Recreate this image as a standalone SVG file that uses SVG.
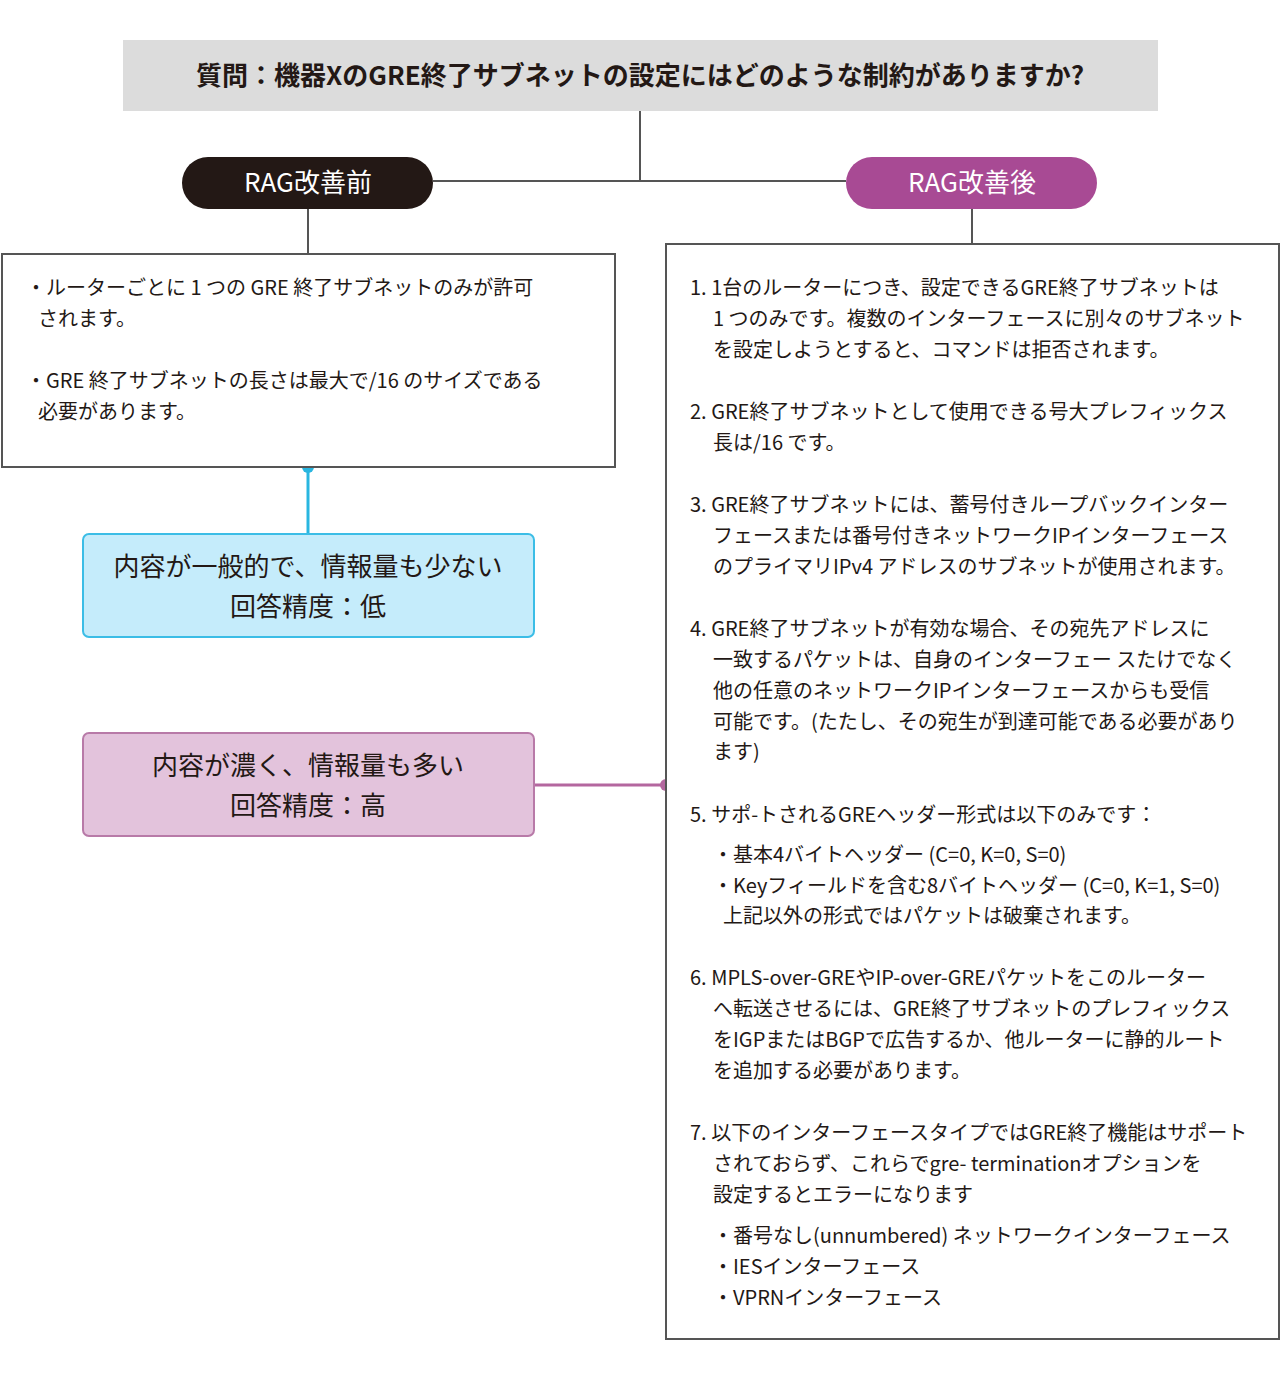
<svg xmlns="http://www.w3.org/2000/svg" width="1280" height="1381" viewBox="0 0 1280 1381">
<style>
text{font-family:"Noto Sans CJK JP","Noto Sans",sans-serif;fill:#231815}
.t{font-size:20px}
.b{font-size:26px}
</style>
<rect width="1280" height="1381" fill="#fff"/>
<g id="connectors" fill="none" stroke-width="2">
<path d="M640 111V181M433 181H846M308 209V254M972 209V244" stroke="#555"/>
<path d="M308 467V534" stroke="#29b6e0" stroke-width="3"/>
<circle cx="308" cy="467" r="6" fill="#29b6e0" stroke="none"/>
<path d="M534 785H666" stroke="#b4679f" stroke-width="3"/>
<circle cx="666" cy="785" r="6" fill="#b4679f" stroke="none"/>
</g>
<g id="title">
<rect x="123" y="40" width="1035" height="71" fill="#dcdcdc"/>
<text x="640" y="85" text-anchor="middle" style="font-size:26px;font-weight:bold">質問：機器XのGRE終了サブネットの設定にはどのような制約がありますか?</text>
</g>
<g id="before">
<rect x="182" y="157" width="251" height="52" rx="26" fill="#231815"/>
<text x="308" y="192" text-anchor="middle" class="b" style="fill:#fff">RAG改善前</text>
</g>
<g id="after">
<rect x="846" y="157" width="251" height="52" rx="26" fill="#a84a94"/>
<text x="972" y="192" text-anchor="middle" class="b" style="fill:#fff">RAG改善後</text>
</g>
<g id="leftbox">
<rect x="2" y="254" width="613" height="213" fill="#fff" stroke="#555" stroke-width="2"/>
<text class="t" x="26" y="295">・ルーターごとに 1 つの GRE 終了サブネットのみが許可</text>
<text class="t" x="38" y="326">されます。</text>
<text class="t" x="26" y="388">・GRE 終了サブネットの長さは最大で/16 のサイズである</text>
<text class="t" x="38" y="419">必要があります。</text>
</g>
<g id="low">
<rect x="83" y="534" width="451" height="103" rx="6" fill="#c5ecfb" stroke="#3bbde6" stroke-width="2"/>
<text class="b" x="308" y="576" text-anchor="middle">内容が一般的で、情報量も少ない</text>
<text class="b" x="308" y="616" text-anchor="middle">回答精度：低</text>
</g>
<g id="high">
<rect x="83" y="733" width="451" height="103" rx="6" fill="#e3c3dc" stroke="#b87aa8" stroke-width="2"/>
<text class="b" x="308" y="775" text-anchor="middle">内容が濃く、情報量も多い</text>
<text class="b" x="308" y="815" text-anchor="middle">回答精度：高</text>
</g>
<g id="rightbox">
<rect x="666" y="244" width="613" height="1095" fill="#fff" stroke="#555" stroke-width="2"/>
<g class="t">
<text class="t" x="690" y="295">1. 1台のルーターにつき、設定できるGRE終了サブネットは</text>
<text class="t" x="713" y="326">1 つのみです。複数のインターフェースに別々のサブネット</text>
<text class="t" x="713" y="357">を設定しようとすると、コマンドは拒否されます。</text>
<text class="t" x="690" y="419">2. GRE終了サブネットとして使用できる号大プレフィックス</text>
<text class="t" x="713" y="450">長は/16 です。</text>
<text class="t" x="690" y="512">3. GRE終了サブネットには、蓄号付きループバックインター</text>
<text class="t" x="713" y="543">フェースまたは番号付きネットワークIPインターフェース</text>
<text class="t" x="713" y="574">のプライマリIPv4 アドレスのサブネットが使用されます。</text>
<text class="t" x="690" y="636">4. GRE終了サブネットが有効な場合、その宛先アドレスに</text>
<text class="t" x="713" y="667">一致するパケットは、自身のインターフェー スたけでなく</text>
<text class="t" x="713" y="698">他の任意のネットワークIPインターフェースからも受信</text>
<text class="t" x="713" y="729">可能です。(たたし、その宛生が到達可能である必要があり</text>
<text class="t" x="713" y="759">ます)</text>
<text class="t" x="690" y="822">5. サポ-トされるGREヘッダー形式は以下のみです：</text>
<text class="t" x="713" y="862">・基本4バイトヘッダー (C=0, K=0, S=0)</text>
<text class="t" x="713" y="893">・Keyフィールドを含む8バイトヘッダー (C=0, K=1, S=0)</text>
<text class="t" x="723" y="923">上記以外の形式ではパケットは破棄されます。</text>
<text class="t" x="690" y="985">6. MPLS-over-GREやIP-over-GREパケットをこのルーター</text>
<text class="t" x="713" y="1016">へ転送させるには、GRE終了サブネットのプレフィックス</text>
<text class="t" x="713" y="1047">をIGPまたはBGPで広告するか、他ルーターに静的ルート</text>
<text class="t" x="713" y="1078">を追加する必要があります。</text>
<text class="t" x="690" y="1140">7. 以下のインターフェースタイプではGRE終了機能はサポート</text>
<text class="t" x="713" y="1171">されておらず、これらでgre- terminationオプションを</text>
<text class="t" x="713" y="1202">設定するとエラーになります</text>
<text class="t" x="713" y="1243">・番号なし(unnumbered) ネットワークインターフェース</text>
<text class="t" x="713" y="1274">・IESインターフェース</text>
<text class="t" x="713" y="1305">・VPRNインターフェース</text>
</g>
</g>
</svg>
